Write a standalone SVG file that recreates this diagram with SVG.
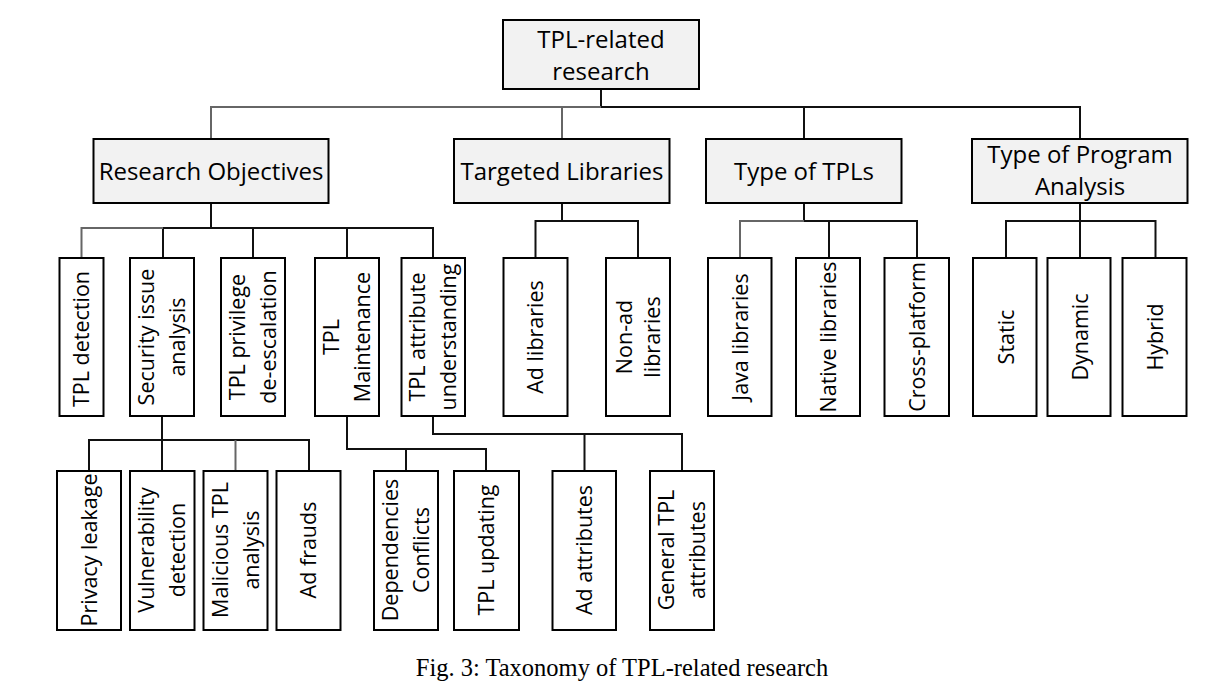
<svg xmlns="http://www.w3.org/2000/svg" width="1225" height="690" viewBox="0 0 1225 690">
  <style>
    .hdr { fill: #f2f2f2; stroke: #000; stroke-width: 2; }
    .leaf { fill: #fff; stroke: #000; stroke-width: 2; }
    .t { font-family: "Open Sans", "Noto Sans", sans-serif; font-size: 24px; fill: #000; text-anchor: middle; }
    .v { font-family: "Open Sans", "Noto Sans", sans-serif; font-size: 21.5px; fill: #000; text-anchor: middle; }
    .cap { font-family: "Liberation Serif", serif; font-size: 24.5px; fill: #000; text-anchor: middle; }
    .ln { fill: none; stroke: #111; stroke-width: 2; }
    .lg { fill: none; stroke: #666; stroke-width: 2; }
  </style>
  <rect width="1225" height="690" fill="#fff"/>

  <!-- connectors -->
  <g id="connectors">
    <path class="ln" d="M601,89 V107 H1080 V139 M804,107 V139"/>
    <path class="lg" d="M601,107 H211 V139 M562,107 V139"/>
    <!-- Research Objectives -->
    <path class="ln" d="M211,203 V228 M163,258 V228 H433 V258 M253,228 V258 M347,228 V258"/>
    <path class="lg" d="M163,228 H81.5 V258"/>
    <!-- Targeted Libraries -->
    <path class="ln" d="M562,203 V221 M535.5,258 V221 H638 V258"/>
    <!-- Type of TPLs -->
    <path class="ln" d="M804,203 V221 H917 V258 M829,221 V258"/>
    <path class="lg" d="M804,221 H740 V258"/>
    <!-- Type of Program Analysis -->
    <path class="ln" d="M1080,203 V258 M1006,258 V221 H1155.5 V258"/>
    <!-- Security issue analysis -->
    <path class="ln" d="M162,416 V471 M89,471 V440 H309 V471"/>
    <path class="lg" d="M235.5,440 V471"/>
    <!-- TPL Maintenance -->
    <path class="ln" d="M347,416 V449 H486 V471 M406,449 V471"/>
    <!-- TPL attribute understanding -->
    <path class="ln" d="M433,416 V434 H682 V471 M584.5,434 V471"/>
  </g>

  <!-- root -->
  <g id="root">
    <rect class="hdr" x="503" y="20" width="196" height="69"/>
    <text class="t" x="601" y="48" font-size="24.5">TPL-related</text>
    <text class="t" x="601" y="80" font-size="24.5">research</text>
  </g>

  <!-- level 1 -->
  <g id="research-objectives">
    <rect class="hdr" x="93.5" y="139" width="235" height="64"/>
    <text class="t" x="211" y="180">Research Objectives</text>
  </g>
  <g id="targeted-libraries">
    <rect class="hdr" x="454" y="139" width="215.5" height="64"/>
    <text class="t" x="562" y="180">Targeted Libraries</text>
  </g>
  <g id="type-of-tpls">
    <rect class="hdr" x="706" y="139" width="195.5" height="64"/>
    <text class="t" x="804" y="180">Type of TPLs</text>
  </g>
  <g id="type-of-program-analysis">
    <rect class="hdr" x="972" y="139" width="215.5" height="64"/>
    <text class="t" x="1080" y="163">Type of Program</text>
    <text class="t" x="1080" y="195">Analysis</text>
  </g>

  <!-- level 2: research objectives -->
  <g id="tpl-detection">
    <rect class="leaf" x="59.5" y="258" width="44" height="158"/>
    <text class="v" transform="translate(81.5,339) rotate(-90)" dy="0.36em">TPL detection</text>
  </g>
  <g id="security-issue-analysis">
    <rect class="leaf" x="130" y="258" width="64" height="158"/>
    <text class="v" transform="translate(162,337) rotate(-90)"><tspan x="0" dy="-8">Security issue</tspan><tspan x="0" dy="31">analysis</tspan></text>
  </g>
  <g id="tpl-privilege">
    <rect class="leaf" x="221" y="258" width="64" height="158"/>
    <text class="v" transform="translate(253,337) rotate(-90)"><tspan x="0" dy="-8">TPL privilege</tspan><tspan x="0" dy="31">de-escalation</tspan></text>
  </g>
  <g id="tpl-maintenance">
    <rect class="leaf" x="315" y="258" width="64" height="158"/>
    <text class="v" transform="translate(347,337) rotate(-90)"><tspan x="0" dy="-8">TPL</tspan><tspan x="0" dy="31">Maintenance</tspan></text>
  </g>
  <g id="tpl-attribute-understanding">
    <rect class="leaf" x="401.5" y="258" width="63.5" height="158"/>
    <text class="v" transform="translate(433,337) rotate(-90)"><tspan x="0" dy="-8">TPL attribute</tspan><tspan x="0" dy="31">understanding</tspan></text>
  </g>

  <!-- level 2: targeted libraries -->
  <g id="ad-libraries">
    <rect class="leaf" x="503.5" y="258" width="64" height="158"/>
    <text class="v" transform="translate(535.5,337) rotate(-90)" dy="0.36em">Ad libraries</text>
  </g>
  <g id="non-ad-libraries">
    <rect class="leaf" x="606" y="258" width="64" height="158"/>
    <text class="v" transform="translate(638,337) rotate(-90)"><tspan x="0" dy="-6">Non-ad</tspan><tspan x="0" dy="28">libraries</tspan></text>
  </g>

  <!-- level 2: type of TPLs -->
  <g id="java-libraries">
    <rect class="leaf" x="708" y="258" width="63.5" height="158"/>
    <text class="v" transform="translate(740,337) rotate(-90)" dy="0.36em">Java libraries</text>
  </g>
  <g id="native-libraries">
    <rect class="leaf" x="796" y="258" width="64" height="158"/>
    <text class="v" transform="translate(828,337) rotate(-90)" dy="0.36em">Native libraries</text>
  </g>
  <g id="cross-platform">
    <rect class="leaf" x="884.5" y="258" width="64.5" height="158"/>
    <text class="v" transform="translate(917,337) rotate(-90)" dy="0.36em">Cross-platform</text>
  </g>

  <!-- level 2: type of program analysis -->
  <g id="static">
    <rect class="leaf" x="973" y="258" width="63.5" height="158"/>
    <text class="v" transform="translate(1006,337) rotate(-90)" dy="0.36em">Static</text>
  </g>
  <g id="dynamic">
    <rect class="leaf" x="1047.5" y="258" width="63" height="158"/>
    <text class="v" transform="translate(1080,337) rotate(-90)" dy="0.36em">Dynamic</text>
  </g>
  <g id="hybrid">
    <rect class="leaf" x="1122.5" y="258" width="64" height="158"/>
    <text class="v" transform="translate(1155,337) rotate(-90)" dy="0.36em">Hybrid</text>
  </g>

  <!-- level 3 -->
  <g id="privacy-leakage">
    <rect class="leaf" x="57" y="471" width="64" height="159"/>
    <text class="v" transform="translate(89,550) rotate(-90)" dy="0.36em">Privacy leakage</text>
  </g>
  <g id="vulnerability-detection">
    <rect class="leaf" x="130" y="471" width="64.5" height="159"/>
    <text class="v" transform="translate(162,550) rotate(-90)"><tspan x="0" dy="-8">Vulnerability</tspan><tspan x="0" dy="31">detection</tspan></text>
  </g>
  <g id="malicious-tpl-analysis">
    <rect class="leaf" x="203.5" y="471" width="64" height="159"/>
    <text class="v" transform="translate(235.5,550) rotate(-90)"><tspan x="0" dy="-8">Malicious TPL</tspan><tspan x="0" dy="31">analysis</tspan></text>
  </g>
  <g id="ad-frauds">
    <rect class="leaf" x="276.5" y="471" width="64" height="159"/>
    <text class="v" transform="translate(308.5,550) rotate(-90)" dy="0.36em">Ad frauds</text>
  </g>
  <g id="dependencies-conflicts">
    <rect class="leaf" x="374" y="471" width="64" height="159"/>
    <text class="v" transform="translate(406,550) rotate(-90)"><tspan x="0" dy="-8">Dependencies</tspan><tspan x="0" dy="31">Conflicts</tspan></text>
  </g>
  <g id="tpl-updating">
    <rect class="leaf" x="454" y="471" width="65" height="159"/>
    <text class="v" transform="translate(486.5,550) rotate(-90)" dy="0.36em">TPL updating</text>
  </g>
  <g id="ad-attributes">
    <rect class="leaf" x="552.5" y="471" width="63.5" height="159"/>
    <text class="v" transform="translate(584.5,550) rotate(-90)" dy="0.36em">Ad attributes</text>
  </g>
  <g id="general-tpl-attributes">
    <rect class="leaf" x="650" y="471" width="64" height="159"/>
    <text class="v" transform="translate(682,550) rotate(-90)"><tspan x="0" dy="-8">General TPL</tspan><tspan x="0" dy="31">attributes</tspan></text>
  </g>

  <!-- caption -->
  <text class="cap" x="622" y="676">Fig. 3: Taxonomy of TPL-related research</text>
</svg>
